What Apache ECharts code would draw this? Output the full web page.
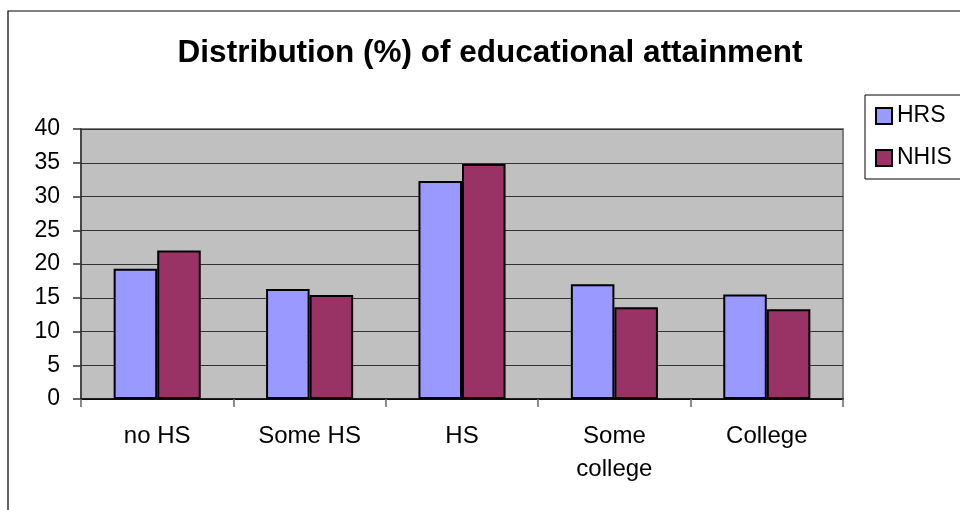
<!DOCTYPE html>
<html>
<head>
<meta charset="utf-8">
<script src="https://cdn.jsdelivr.net/npm/echarts@6/dist/echarts.min.js"></script>
<style>
html,body{margin:0;padding:0;background:#fff;}
#c{width:960px;height:510px;}
</style>
</head>
<body>
<div id="c"></div>
<script>
const categories = ['no HS', 'Some HS', 'HS', 'Some\ncollege', 'College'];
const hrsValues = [19.3, 16.3, 32.3, 17.0, 15.5];
const nhisValues = [22.0, 15.4, 34.8, 13.6, 13.3];
const yTicks = { min: 0, max: 40, interval: 5 };
const titleText = 'Distribution (%) of educational attainment';

const chart = echarts.init(document.getElementById('c'));
const font = 'Liberation Sans, Arial, sans-serif';
chart.setOption({
  backgroundColor: '#fff',
  animation: false,
  title: {
    text: titleText,
    left: 490,
    top: 37,
    textAlign: 'center',
    padding: 0,
    textStyle: { fontFamily: font, fontSize: 31.5, fontWeight: 'bold', color: '#000' }
  },
  graphic: [{
    type: 'rect',
    shape: { x: 8, y: 11, width: 1000, height: 600 },
    style: { fill: 'none', stroke: '#000', lineWidth: 1.2 },
    silent: true
  }],
  legend: {
    orient: 'vertical',
    left: 865,
    top: 95,
    padding: [8, 40, 8, 10],
    itemGap: 16,
    itemWidth: 16,
    itemHeight: 16,
    icon: 'rect',
    borderColor: '#000',
    borderWidth: 1,
    backgroundColor: '#fff',
    textStyle: { fontFamily: font, fontSize: 23, color: '#000', lineHeight: 26 },
    data: ['HRS', 'NHIS']
  },
  grid: {
    left: 81, right: 117, top: 129, bottom: 111,
    show: true,
    backgroundColor: '#C0C0C0',
    borderColor: '#808080',
    borderWidth: 2,
    containLabel: false
  },
  xAxis: {
    type: 'category',
    data: categories,
    boundaryGap: true,
    axisLine: { show: true, lineStyle: { color: '#000', width: 1.5 } },
    axisTick: { show: true, length: 8, lineStyle: { color: '#666', width: 1.5 } },
    axisLabel: { margin: 21, fontFamily: font, fontSize: 24, color: '#000', lineHeight: 33, interval: 0 },
    splitLine: { show: false }
  },
  yAxis: {
    type: 'value',
    min: yTicks.min,
    max: yTicks.max,
    interval: yTicks.interval,
    axisLine: { show: true, lineStyle: { color: '#333', width: 1.5 } },
    axisTick: { show: true, length: 8, lineStyle: { color: '#333', width: 1.5 } },
    axisLabel: { margin: 21, fontFamily: font, fontSize: 23, color: '#000' },
    splitLine: { show: true, lineStyle: { color: '#333', width: 1 } }
  },
  series: [{
    name: 'HRS',
    type: 'bar',
    data: hrsValues,
    barGap: '0%',
    barCategoryGap: '42.86%',
    itemStyle: { color: '#9999FF', borderColor: '#000', borderWidth: 2 }
  }, {
    name: 'NHIS',
    type: 'bar',
    data: nhisValues,
    barGap: '0%',
    barCategoryGap: '42.86%',
    itemStyle: { color: '#993366', borderColor: '#000', borderWidth: 2 }
  }]
});
</script>
</body>
</html>
